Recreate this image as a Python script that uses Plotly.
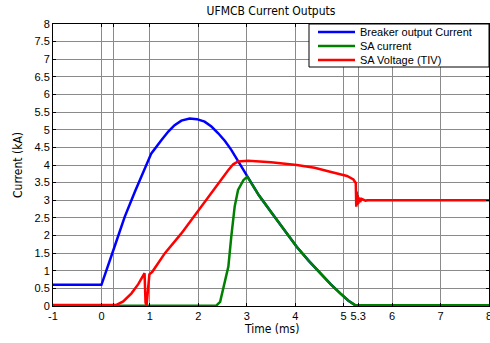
import plotly.graph_objects as go

# Breaker output current (kA)
t_blue = [-1, 0.0, 0.27, 0.48, 0.69, 0.89, 1.03, 1.24, 1.38, 1.51, 1.65, 1.82, 1.97, 2.13, 2.27,
          2.41, 2.55, 2.68, 2.89, 3.01, 3.25, 3.52, 3.78, 4.03, 4.28, 4.52, 4.73, 4.93, 5.1, 5.24, 8]
i_blue = [0.6, 0.6, 1.68, 2.53, 3.24, 3.86, 4.33, 4.71, 4.95, 5.13, 5.26, 5.32, 5.3, 5.23, 5.09,
          4.9, 4.68, 4.43, 3.95, 3.67, 3.14, 2.63, 2.14, 1.68, 1.28, 0.93, 0.62, 0.36, 0.15, 0.02, 0.02]

# SA current (kA)
t_green = [-1, 2.37, 2.45, 2.51, 2.62, 2.68, 2.75, 2.82, 2.93, 3.01, 3.25, 3.52, 3.78, 4.03, 4.28,
           4.52, 4.73, 4.93, 5.1, 5.24, 8]
i_green = [0.01, 0.01, 0.12, 0.45, 1.12, 1.97, 2.82, 3.29, 3.57, 3.67, 3.14, 2.63, 2.14, 1.68, 1.28,
           0.93, 0.62, 0.36, 0.15, 0.02, 0.02]

# SA voltage (TIV)
t_red = [-1, 0.31, 0.45, 0.62, 0.76, 0.89, 0.91, 0.93, 0.96, 0.99, 1.05, 1.31, 1.65, 2.0, 2.34,
         2.62, 2.72, 2.82, 3.03, 3.5, 4.03, 4.4, 4.72, 5.07, 5.2, 5.25, 5.26, 5.27, 5.28, 5.29, 5.30,
         5.32, 5.34, 5.37, 5.45, 5.5, 8]
v_red = [0.03, 0.03, 0.13, 0.36, 0.62, 0.93, 0.1, 0.0, 0.45, 0.9, 0.97, 1.5, 2.06, 2.72, 3.34,
         3.86, 4.02, 4.1, 4.12, 4.08, 4.0, 3.92, 3.81, 3.69, 3.59, 3.49, 2.82, 3.25, 2.86, 3.15, 2.9,
         3.08, 2.95, 3.04, 2.99, 3.0, 3.0]

series_names = ["Breaker output Current", "SA current", "SA Voltage (TIV)"]
series_colors = ["#0000ff", "#008000", "#ff0000"]

x_ticks = [-1, 0, 0.25, 1, 2, 3, 4, 5, 5.3, 6, 7, 8]
x_labels = ["-1", "0", "", "1", "2", "3", "4", "5", "5.3", "6", "7", "8"]
y_ticks = [0, 0.5, 1, 1.5, 2, 2.5, 3, 3.5, 4, 4.5, 5, 5.5, 6, 6.5, 7, 7.5, 8]

fig = go.Figure()
for xs, ys, nm, col in [(t_blue, i_blue, series_names[0], series_colors[0]),
                        (t_green, i_green, series_names[1], series_colors[1]),
                        (t_red, v_red, series_names[2], series_colors[2])]:
    fig.add_trace(go.Scatter(x=xs, y=ys, mode="lines", name=nm,
                             line=dict(color=col, width=2.5), showlegend=False))

narrow = "DejaVu Sans Condensed, Liberation Sans Narrow, sans-serif"
L, R, T, B = 53, 1, 24, 37
W, H = 490, 343
pw, ph = W - L - R, H - T - B

def px2x(px):
    return (px - L) / pw

def py2y(py):
    return (H - B - py) / ph

shapes = [dict(type="rect", xref="paper", yref="paper",
               x0=px2x(309), x1=1.0, y0=py2y(67), y1=1.0,
               line=dict(color="black", width=1), fillcolor="white", layer="above")]
annotations = []
for k, (nm, col) in enumerate(zip(series_names, series_colors)):
    yy = py2y(32 + 14 * k)
    shapes.append(dict(type="line", xref="paper", yref="paper",
                       x0=px2x(318), x1=px2x(355), y0=yy, y1=yy,
                       line=dict(color=col, width=2.5), layer="above"))
    annotations.append(dict(text=nm, xref="paper", yref="paper", x=px2x(358), y=yy,
                            xanchor="left", yanchor="middle", showarrow=False,
                            font=dict(size=11, family="Liberation Sans, Arial, sans-serif")))

annotations.append(dict(text="Time (ms)", xref="paper", yref="paper", x=0.5, y=py2y(329),
                        xanchor="center", yanchor="middle", showarrow=False,
                        font=dict(family=narrow, size=12)))
annotations.append(dict(text="Current (kA)", xref="paper", yref="paper", x=px2x(18), y=0.5,
                        xanchor="center", yanchor="middle", showarrow=False, textangle=-90,
                        font=dict(family=narrow, size=12)))

fig.update_layout(
    width=W, height=H,
    margin=dict(l=L, r=R, t=T, b=B, autoexpand=False),
    paper_bgcolor="white", plot_bgcolor="white",
    title=dict(text="UFMCB Current Outputs", x=0.5, xref="paper", xanchor="center",
               y=1 - 11 / H, yref="container", yanchor="middle",
               font=dict(family=narrow, size=12, color="black")),
    font=dict(family="Liberation Sans, Arial, sans-serif", size=11, color="black"),
    showlegend=False,
    shapes=shapes,
    annotations=annotations,
)
fig.update_xaxes(range=[-1, 8], tickvals=x_ticks, ticktext=x_labels, automargin=False,
                 ticklabeloverflow="allow",
                 showgrid=True, gridcolor="#8a8a8a", gridwidth=1,
                 showline=True, linecolor="black", linewidth=1, mirror="ticks",
                 ticks="inside", ticklen=3, tickcolor="black", zeroline=False,
                 tickfont=dict(size=11))
fig.update_yaxes(range=[0, 8], tickvals=y_ticks, automargin=False,
                 showgrid=True, gridcolor="#8a8a8a", gridwidth=1,
                 showline=True, linecolor="black", linewidth=1, mirror="ticks",
                 ticks="inside", ticklen=3, tickcolor="black", zeroline=False,
                 tickfont=dict(size=11))

fig.write_html("out.html", config={"displayModeBar": False},
               post_script="document.body.style.margin='0';")
